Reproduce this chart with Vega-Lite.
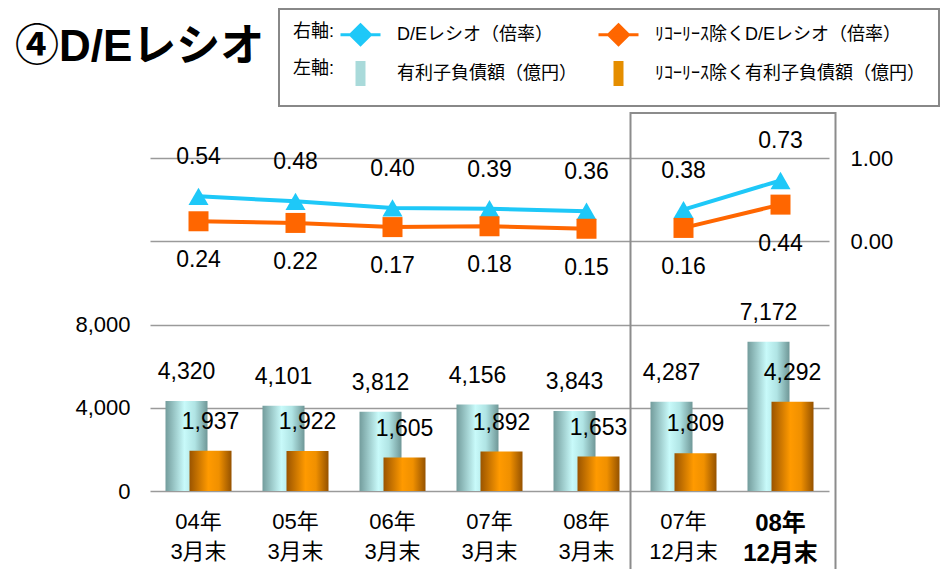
{
  "$schema": "https://vega.github.io/schema/vega-lite/v6.json",
  "width": 679,
  "height": 333,
  "autosize": "none",
  "padding": {"left": 150, "top": 158, "right": 115, "bottom": 78},
  "background": "white",
  "title": {"text": "④D/Eレシオ", "anchor": "start", "frame": "group", "fontSize": 44, "fontWeight": "bold", "color": "black", "dx": -135, "offset": 0, "dy": 97, "baseline": "alphabetic"},
  "config": {
    "view": {"stroke": null},
    "font": "Liberation Sans, Noto Sans CJK JP",
    "axis": {"domain": false, "ticks": false, "labelColor": "black", "labelFontSize": 22},
    "legend": {"strokeWidth": 2}
  },
  "data": {"values": [
    {"cat": "04年 3月末", "grp": "a", "debt": 4320, "debt_ex": 1937, "de": 0.54, "de_ex": 0.24},
    {"cat": "05年 3月末", "grp": "a", "debt": 4101, "debt_ex": 1922, "de": 0.48, "de_ex": 0.22},
    {"cat": "06年 3月末", "grp": "a", "debt": 3812, "debt_ex": 1605, "de": 0.40, "de_ex": 0.17},
    {"cat": "07年 3月末", "grp": "a", "debt": 4156, "debt_ex": 1892, "de": 0.39, "de_ex": 0.18},
    {"cat": "08年 3月末", "grp": "a", "debt": 3843, "debt_ex": 1653, "de": 0.36, "de_ex": 0.15},
    {"cat": "07年 12月末", "grp": "b", "debt": 4287, "debt_ex": 1809, "de": 0.38, "de_ex": 0.16},
    {"cat": "08年 12月末", "grp": "b", "debt": 7172, "debt_ex": 4292, "de": 0.73, "de_ex": 0.44}
  ]},
  "encoding": {
    "x": {
      "field": "cat", "type": "nominal", "sort": null,
      "scale": {"domain": ["04年 3月末", "05年 3月末", "06年 3月末", "07年 3月末", "08年 3月末", "07年 12月末", "08年 12月末"], "paddingInner": 0, "paddingOuter": 0},
      "axis": {
        "title": null, "labelAngle": 0, "labelPadding": 20, "labelBaseline": "top",
        "labelExpr": "split(datum.label, ' ')", "labelLineHeight": 30,
        "labelFontSize": {"condition": {"test": "datum.value == '08年 12月末'", "value": 24}, "value": 22},
        "labelFontWeight": {"condition": {"test": "datum.value == '08年 12月末'", "value": "bold"}, "value": "normal"}
      }
    }
  },
  "layer": [
    {
      "layer": [
        {
          "mark": {"type": "bar", "width": 42, "xOffset": -12,
            "color": {"gradient": "linear", "x1": 0, "y1": 0, "x2": 1, "y2": 0,
              "stops": [{"offset": 0, "color": "#739c9c"}, {"offset": 0.45, "color": "#c8fafa"}, {"offset": 0.7, "color": "#b0e4e4"}, {"offset": 1, "color": "#6f9797"}]}},
          "encoding": {
            "y": {"field": "debt", "type": "quantitative", "scale": {"domain": [0, 16000]},
              "axis": {"orient": "left", "title": null, "values": [0, 4000, 8000, 12000, 16000], "grid": true, "gridColor": "#9a9a9a", "gridWidth": 1.5,
                "labelExpr": "datum.value > 8000 ? '' : format(datum.value, ',')", "labelPadding": 20}}
          }
        },
        {
          "mark": {"type": "bar", "width": 42, "xOffset": 12,
            "color": {"gradient": "linear", "x1": 0, "y1": 0, "x2": 1, "y2": 0,
              "stops": [{"offset": 0, "color": "#9a5400"}, {"offset": 0.45, "color": "#ff9a00"}, {"offset": 0.7, "color": "#f09000"}, {"offset": 1, "color": "#955200"}]}},
          "encoding": {"y": {"field": "debt_ex", "type": "quantitative", "scale": {"domain": [0, 16000]}}}
        },
        {
          "mark": {"type": "text", "xOffset": -12, "dy": -29, "fontSize": 23, "color": "black"},
          "encoding": {"y": {"field": "debt", "type": "quantitative", "scale": {"domain": [0, 16000]}}, "text": {"field": "debt", "type": "quantitative", "format": ","}}
        },
        {
          "mark": {"type": "text", "xOffset": 12, "dy": -29, "fontSize": 23, "color": "black"},
          "encoding": {"y": {"field": "debt_ex", "type": "quantitative", "scale": {"domain": [0, 16000]}}, "text": {"field": "debt_ex", "type": "quantitative", "format": ","}}
        },
        {
          "data": {"values": [{}]},
          "mark": {"type": "rect", "fill": null, "stroke": "#8c8c8c", "strokeWidth": 2, "xOffset": -53, "x2Offset": 55},
          "encoding": {
            "x": {"datum": "07年 12月末", "type": "nominal"},
            "x2": {"datum": "08年 12月末"},
            "y": {"datum": 18160, "type": "quantitative", "scale": {"domain": [0, 16000]}},
            "y2": {"datum": -4400}
          }
        }
      ]
    },
    {
      "transform": [{"fold": ["de", "de_ex"], "as": ["series", "value"]}],
      "layer": [
        {
          "mark": {"type": "line", "strokeWidth": 4},
          "encoding": {
            "y": {"field": "value", "type": "quantitative", "scale": {"domain": [-3, 1]},
              "axis": {"orient": "right", "title": null, "values": [0, 1], "format": ".2f", "grid": false, "labelPadding": 21}},
            "color": {"field": "series", "type": "nominal", "scale": {"domain": ["de", "de_ex"], "range": ["#1ec8f8", "#ff6600"]}, "legend": null},
            "detail": {"field": "grp"}
          }
        },
        {
          "transform": [{"filter": "datum.series == 'de'"}],
          "mark": {"type": "point", "filled": true, "size": 400, "opacity": 1, "shape": "triangle-up", "color": "#1ec8f8"},
          "encoding": {"y": {"field": "value", "type": "quantitative", "scale": {"domain": [-3, 1]}}}
        },
        {
          "transform": [{"filter": "datum.series == 'de_ex'"}],
          "mark": {"type": "point", "filled": true, "size": 400, "opacity": 1, "shape": "square", "color": "#ff6600"},
          "encoding": {"y": {"field": "value", "type": "quantitative", "scale": {"domain": [-3, 1]}}}
        },
        {
          "mark": {"type": "point", "filled": true, "opacity": 0, "size": 10},
          "encoding": {
            "y": {"field": "value", "type": "quantitative", "scale": {"domain": [-3, 1]}},
            "fill": {"field": "series", "type": "nominal",
              "scale": {"domain": ["de", "de_ex", "debt", "debt_ex"], "range": ["#1ec8f8", "#ff6600", "#a9dada", "#e58e00"]},
              "legend": {
                "orient": "none", "legendX": 129, "legendY": -149, "direction": "horizontal", "columns": 2,
                "title": ["右軸:", "左軸:"], "titleOrient": "left", "titleFontSize": 18, "titleFontWeight": "normal", "titleColor": "black",
                "titleLineHeight": 37, "titleBaseline": "top", "titleAnchor": "start", "titlePadding": 14,
                "columnPadding": 15, "rowPadding": 4,
                "labelExpr": "datum.value == 'de' ? 'D/Eレシオ（倍率）' : datum.value == 'de_ex' ? 'ﾘｺｰﾘｰｽ除くD/Eレシオ（倍率）' : datum.value == 'debt' ? '有利子負債額（億円）' : 'ﾘｺｰﾘｰｽ除く有利子負債額（億円）'",
                "labelFontSize": 18, "labelColor": "black", "labelLimit": 400, "labelOffset": 25,
                "symbolSize": 400, "symbolStrokeWidth": 3, "symbolOpacity": 1, "padding": 14, "strokeColor": "#888888"
              }},
            "stroke": {"field": "series", "type": "nominal",
              "scale": {"domain": ["de", "de_ex", "debt", "debt_ex"], "range": ["#1ec8f8", "#ff6600", "transparent", "transparent"]},
              "legend": {
                "orient": "none", "legendX": 129, "legendY": -149, "direction": "horizontal", "columns": 2,
                "title": ["右軸:", "左軸:"], "titleOrient": "left", "titleFontSize": 18, "titleFontWeight": "normal", "titleColor": "black",
                "titleLineHeight": 37, "titleBaseline": "top", "titleAnchor": "start", "titlePadding": 14,
                "columnPadding": 15, "rowPadding": 4,
                "labelExpr": "datum.value == 'de' ? 'D/Eレシオ（倍率）' : datum.value == 'de_ex' ? 'ﾘｺｰﾘｰｽ除くD/Eレシオ（倍率）' : datum.value == 'debt' ? '有利子負債額（億円）' : 'ﾘｺｰﾘｰｽ除く有利子負債額（億円）'",
                "labelFontSize": 18, "labelColor": "black", "labelLimit": 400, "labelOffset": 25,
                "symbolSize": 400, "symbolStrokeWidth": 3, "symbolOpacity": 1, "padding": 14, "strokeColor": "#888888"
              }},
            "shape": {"field": "series", "type": "nominal",
              "scale": {"domain": ["de", "de_ex", "debt", "debt_ex"], "range": ["M-2,0L2,0M0,-1L1,0L0,1L-1,0Z", "M-2,0L2,0M0,-1L1,0L0,1L-1,0Z", "M-0.5,-1.25L0.5,-1.25L0.5,1.25L-0.5,1.25Z", "M-0.5,-1.25L0.5,-1.25L0.5,1.25L-0.5,1.25Z"]},
              "legend": {
                "orient": "none", "legendX": 129, "legendY": -149, "direction": "horizontal", "columns": 2,
                "title": ["右軸:", "左軸:"], "titleOrient": "left", "titleFontSize": 18, "titleFontWeight": "normal", "titleColor": "black",
                "titleLineHeight": 37, "titleBaseline": "top", "titleAnchor": "start", "titlePadding": 14,
                "columnPadding": 15, "rowPadding": 4,
                "labelExpr": "datum.value == 'de' ? 'D/Eレシオ（倍率）' : datum.value == 'de_ex' ? 'ﾘｺｰﾘｰｽ除くD/Eレシオ（倍率）' : datum.value == 'debt' ? '有利子負債額（億円）' : 'ﾘｺｰﾘｰｽ除く有利子負債額（億円）'",
                "labelFontSize": 18, "labelColor": "black", "labelLimit": 400, "labelOffset": 25,
                "symbolSize": 400, "symbolStrokeWidth": 3, "symbolOpacity": 1, "padding": 14, "strokeColor": "#888888"
              }}
          }
        },
        {
          "transform": [{"filter": "datum.series == 'de'"}],
          "mark": {"type": "text", "dy": -39, "fontSize": 23, "color": "black"},
          "encoding": {"y": {"field": "value", "type": "quantitative", "scale": {"domain": [-3, 1]}}, "text": {"field": "value", "type": "quantitative", "format": ".2f"}}
        },
        {
          "transform": [{"filter": "datum.series == 'de_ex'"}],
          "mark": {"type": "text", "dy": 39, "fontSize": 23, "color": "black"},
          "encoding": {"y": {"field": "value", "type": "quantitative", "scale": {"domain": [-3, 1]}}, "text": {"field": "value", "type": "quantitative", "format": ".2f"}}
        }
      ]
    }
  ],
  "resolve": {"scale": {"y": "independent"}}
}
